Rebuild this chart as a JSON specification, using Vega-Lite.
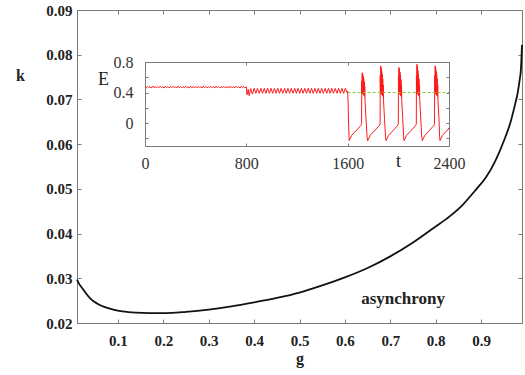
{
  "$schema": "https://vega.github.io/schema/vega-lite/v6.json",
  "width": 445,
  "height": 313,
  "autosize": "none",
  "padding": {"left": 77, "top": 10, "right": 3, "bottom": 52},
  "background": "white",
  "config": {
    "view": {"stroke": null},
    "font": "Liberation Serif",
    "axis": {"grid": false, "labelFlush": false, "labelOverlap": false, "domainColor": "#7a7a7a", "tickColor": "#7a7a7a", "domainWidth": 1, "tickWidth": 1, "labelFont": "Liberation Serif", "titleFont": "Liberation Serif", "labelColor": "#222", "titleColor": "#222"}
  },
  "datasets": {
    "main": [
      {"g": 0.01, "k": 0.0297}, {"g": 0.015, "k": 0.0287}, {"g": 0.02, "k": 0.0280}, {"g": 0.03, "k": 0.0266},
      {"g": 0.04, "k": 0.0254}, {"g": 0.055, "k": 0.0243}, {"g": 0.07, "k": 0.0236}, {"g": 0.09, "k": 0.0230},
      {"g": 0.11, "k": 0.0226}, {"g": 0.14, "k": 0.0223}, {"g": 0.17, "k": 0.0222}, {"g": 0.2, "k": 0.0222},
      {"g": 0.25, "k": 0.0225}, {"g": 0.3, "k": 0.0230}, {"g": 0.35, "k": 0.0237}, {"g": 0.4, "k": 0.0246},
      {"g": 0.45, "k": 0.0256}, {"g": 0.5, "k": 0.0268}, {"g": 0.55, "k": 0.0284}, {"g": 0.6, "k": 0.0302},
      {"g": 0.65, "k": 0.0323}, {"g": 0.7, "k": 0.0349}, {"g": 0.75, "k": 0.0380}, {"g": 0.8, "k": 0.0416},
      {"g": 0.83, "k": 0.0438}, {"g": 0.86, "k": 0.0465}, {"g": 0.89, "k": 0.0500}, {"g": 0.91, "k": 0.0525},
      {"g": 0.93, "k": 0.0560}, {"g": 0.95, "k": 0.0607}, {"g": 0.965, "k": 0.0650}, {"g": 0.975, "k": 0.0690},
      {"g": 0.98, "k": 0.0712}, {"g": 0.985, "k": 0.0745}, {"g": 0.9875, "k": 0.0765}, {"g": 0.99, "k": 0.0822}
    ],
    "lab": [{"g": 0.728, "k": 0.0243, "label": "asynchrony"}],
    "ref": [{"t": 1600, "E": 0.4}, {"t": 2400, "E": 0.4}],
    "ins": [
      {"t":0,"E":0.478},{"t":10,"E":0.462},{"t":20,"E":0.482},{"t":30,"E":0.465},{"t":40,"E":0.476},{"t":50,"E":0.459},{"t":60,"E":0.484},{"t":70,"E":0.463},{"t":80,"E":0.479},{"t":90,"E":0.461},
      {"t":100,"E":0.478},{"t":110,"E":0.462},{"t":120,"E":0.482},{"t":130,"E":0.465},{"t":140,"E":0.476},{"t":150,"E":0.459},{"t":160,"E":0.484},{"t":170,"E":0.463},{"t":180,"E":0.479},{"t":190,"E":0.461},
      {"t":200,"E":0.478},{"t":210,"E":0.462},{"t":220,"E":0.482},{"t":230,"E":0.465},{"t":240,"E":0.476},{"t":250,"E":0.459},{"t":260,"E":0.484},{"t":270,"E":0.463},{"t":280,"E":0.479},{"t":290,"E":0.461},
      {"t":300,"E":0.478},{"t":310,"E":0.462},{"t":320,"E":0.482},{"t":330,"E":0.465},{"t":340,"E":0.476},{"t":350,"E":0.459},{"t":360,"E":0.484},{"t":370,"E":0.463},{"t":380,"E":0.479},{"t":390,"E":0.461},
      {"t":400,"E":0.478},{"t":410,"E":0.462},{"t":420,"E":0.482},{"t":430,"E":0.465},{"t":440,"E":0.476},{"t":450,"E":0.459},{"t":460,"E":0.484},{"t":470,"E":0.463},{"t":480,"E":0.479},{"t":490,"E":0.461},
      {"t":500,"E":0.478},{"t":510,"E":0.462},{"t":520,"E":0.482},{"t":530,"E":0.465},{"t":540,"E":0.476},{"t":550,"E":0.459},{"t":560,"E":0.484},{"t":570,"E":0.463},{"t":580,"E":0.479},{"t":590,"E":0.461},
      {"t":600,"E":0.478},{"t":610,"E":0.462},{"t":620,"E":0.482},{"t":630,"E":0.465},{"t":640,"E":0.476},{"t":650,"E":0.459},{"t":660,"E":0.484},{"t":670,"E":0.463},{"t":680,"E":0.479},{"t":690,"E":0.461},
      {"t":700,"E":0.478},{"t":710,"E":0.462},{"t":720,"E":0.482},{"t":730,"E":0.465},{"t":740,"E":0.476},{"t":750,"E":0.459},{"t":760,"E":0.484},{"t":770,"E":0.463},{"t":780,"E":0.479},{"t":790,"E":0.461},
      {"t":800,"E":0.475},{"t":805,"E":0.37},{"t":815,"E":0.44},{"t":822,"E":0.36},{"t":835,"E":0.45},{"t":848,"E":0.38},
      {"t":862,"E":0.455},{"t":875,"E":0.39},{"t":888,"E":0.455},{"t":902,"E":0.39},{"t":915,"E":0.455},{"t":928,"E":0.39},
      {"t":942,"E":0.455},{"t":955,"E":0.39},{"t":968,"E":0.455},{"t":982,"E":0.39},{"t":995,"E":0.455},{"t":1008,"E":0.39},
      {"t":1022,"E":0.455},{"t":1035,"E":0.39},{"t":1048,"E":0.455},{"t":1062,"E":0.39},{"t":1075,"E":0.455},{"t":1088,"E":0.39},
      {"t":1102,"E":0.455},{"t":1115,"E":0.39},{"t":1128,"E":0.455},{"t":1142,"E":0.39},{"t":1155,"E":0.455},{"t":1168,"E":0.39},
      {"t":1182,"E":0.455},{"t":1195,"E":0.39},{"t":1208,"E":0.455},{"t":1222,"E":0.39},{"t":1235,"E":0.455},{"t":1248,"E":0.39},
      {"t":1262,"E":0.455},{"t":1275,"E":0.39},{"t":1288,"E":0.455},{"t":1302,"E":0.39},{"t":1315,"E":0.455},{"t":1328,"E":0.39},
      {"t":1342,"E":0.455},{"t":1355,"E":0.39},{"t":1368,"E":0.455},{"t":1382,"E":0.39},{"t":1395,"E":0.455},{"t":1408,"E":0.39},
      {"t":1422,"E":0.455},{"t":1435,"E":0.39},{"t":1448,"E":0.455},{"t":1462,"E":0.39},{"t":1475,"E":0.455},{"t":1488,"E":0.39},
      {"t":1502,"E":0.455},{"t":1515,"E":0.39},{"t":1528,"E":0.455},{"t":1542,"E":0.39},{"t":1555,"E":0.455},{"t":1568,"E":0.39},
      {"t":1582,"E":0.455},{"t":1595,"E":0.40},{"t":1600,"E":0.42},
      {"t":1603,"E":0.30},{"t":1607,"E":0.0},{"t":1612,"E":-0.23},{"t":1632,"E":-0.16},{"t":1672,"E":-0.09},{"t":1705,"E":-0.03},
      {"t":1710,"E":-0.01},{"t":1711,"E":0.55},{"t":1713,"E":0.40},{"t":1715,"E":0.66},{"t":1717,"E":0.38},{"t":1719,"E":0.64},{"t":1721,"E":0.40},{"t":1723,"E":0.61},{"t":1725,"E":0.37},{"t":1727,"E":0.58},{"t":1729,"E":0.36},{"t":1731,"E":0.54},{"t":1733,"E":0.35},{"t":1735,"E":0.48},{"t":1737,"E":0.30},{"t":1745,"E":0.05},{"t":1753,"E":-0.18},
      {"t":1758,"E":-0.23},{"t":1778,"E":-0.16},{"t":1818,"E":-0.09},{"t":1851,"E":-0.03},
      {"t":1856,"E":-0.01},{"t":1857,"E":0.62},{"t":1859,"E":0.42},{"t":1861,"E":0.75},{"t":1863,"E":0.38},{"t":1865,"E":0.72},{"t":1867,"E":0.40},{"t":1869,"E":0.68},{"t":1871,"E":0.37},{"t":1873,"E":0.64},{"t":1875,"E":0.36},{"t":1877,"E":0.58},{"t":1879,"E":0.35},{"t":1881,"E":0.50},{"t":1883,"E":0.30},{"t":1891,"E":0.05},{"t":1899,"E":-0.18},
      {"t":1903,"E":-0.23},{"t":1923,"E":-0.16},{"t":1963,"E":-0.09},{"t":1995,"E":-0.03},
      {"t":2000,"E":-0.01},{"t":2001,"E":0.62},{"t":2003,"E":0.42},{"t":2005,"E":0.73},{"t":2007,"E":0.38},{"t":2009,"E":0.71},{"t":2011,"E":0.40},{"t":2013,"E":0.67},{"t":2015,"E":0.37},{"t":2017,"E":0.63},{"t":2019,"E":0.36},{"t":2021,"E":0.57},{"t":2023,"E":0.35},{"t":2025,"E":0.50},{"t":2027,"E":0.30},{"t":2035,"E":0.05},{"t":2042,"E":-0.18},
      {"t":2045,"E":-0.23},{"t":2065,"E":-0.16},{"t":2105,"E":-0.09},{"t":2137,"E":-0.03},
      {"t":2142,"E":-0.01},{"t":2143,"E":0.62},{"t":2145,"E":0.42},{"t":2147,"E":0.77},{"t":2149,"E":0.38},{"t":2151,"E":0.74},{"t":2153,"E":0.40},{"t":2155,"E":0.69},{"t":2157,"E":0.37},{"t":2159,"E":0.64},{"t":2161,"E":0.36},{"t":2163,"E":0.58},{"t":2165,"E":0.35},{"t":2167,"E":0.50},{"t":2169,"E":0.30},{"t":2177,"E":0.05},{"t":2185,"E":-0.18},
      {"t":2189,"E":-0.23},{"t":2209,"E":-0.16},{"t":2249,"E":-0.09},{"t":2281,"E":-0.03},
      {"t":2286,"E":-0.01},{"t":2287,"E":0.62},{"t":2289,"E":0.42},{"t":2291,"E":0.75},{"t":2293,"E":0.38},{"t":2295,"E":0.72},{"t":2297,"E":0.40},{"t":2299,"E":0.68},{"t":2301,"E":0.37},{"t":2303,"E":0.64},{"t":2305,"E":0.36},{"t":2307,"E":0.58},{"t":2309,"E":0.35},{"t":2311,"E":0.50},{"t":2313,"E":0.30},{"t":2321,"E":0.05},{"t":2326,"E":-0.18},
      {"t":2329,"E":-0.23},{"t":2349,"E":-0.16},{"t":2389,"E":-0.09},{"t":2400,"E":-0.06}
    ]
  },
  "layer": [
    {
      "data": {"name": "main"},
      "mark": {"type": "line", "color": "#111", "strokeWidth": 1.8, "interpolate": "monotone"},
      "encoding": {
        "x": {"field": "g", "type": "quantitative", "scale": {"domain": [0.01, 0.99], "nice": false, "zero": false},
              "axis": {"orient": "bottom", "values": [0.1,0.2,0.3,0.4,0.5,0.6,0.7,0.8,0.9], "format": ".1f", "tickSize": -4, "labelPadding": 14,
                       "labelFontSize": 15, "labelFontWeight": "bold", "title": "g", "titleFontSize": 16, "titleFontWeight": "bold",
                       "titleY": 40, "titleBaseline": "alphabetic"}},
        "y": {"field": "k", "type": "quantitative", "scale": {"domain": [0.02, 0.09], "nice": false, "zero": false},
              "axis": {"orient": "left", "values": [0.02,0.03,0.04,0.05,0.06,0.07,0.08,0.09], "format": ".2f", "tickSize": -4, "labelPadding": 9,
                       "labelFontSize": 15, "labelFontWeight": "bold", "title": "k", "titleFontSize": 16, "titleFontWeight": "bold",
                       "titleAngle": 0, "titleX": -57, "titleY": 65, "titleAlign": "center", "titleBaseline": "middle"}}
      }
    },
    {
      "data": {"name": "lab"},
      "mark": {"type": "text", "font": "Liberation Serif", "fontSize": 17, "fontWeight": "bold", "align": "center", "baseline": "alphabetic", "color": "#222"},
      "encoding": {
        "x": {"field": "g", "type": "quantitative", "scale": {"domain": [0.01, 0.99], "nice": false, "zero": false},
              "axis": {"orient": "top", "values": [0.1,0.2,0.3,0.4,0.5,0.6,0.7,0.8,0.9], "labels": false, "tickSize": -4, "title": null}},
        "y": {"field": "k", "type": "quantitative", "scale": {"domain": [0.02, 0.09], "nice": false, "zero": false},
              "axis": {"orient": "right", "values": [0.02,0.03,0.04,0.05,0.06,0.07,0.08,0.09], "labels": false, "tickSize": -4, "title": null}},
        "text": {"field": "label"}
      }
    },
    {
      "data": {"name": "ins"},
      "mark": {"type": "line", "color": "#ff1a1a", "strokeWidth": 1},
      "encoding": {
        "x": {"field": "t", "type": "quantitative", "scale": {"domain": [0, 2400], "range": [68, 372], "nice": false, "zero": false},
              "axis": {"orient": "bottom", "offset": -177, "values": [0, 800, 1600, 2400], "format": "d", "tickSize": -3, "labelPadding": 12,
                       "labelFontSize": 16, "labelColor": "#333", "title": "t", "titleFontSize": 18, "titleFontWeight": "normal",
                       "titleX": 321, "titleY": 15, "titleAlign": "center", "titleBaseline": "middle"}},
        "y": {"field": "E", "type": "quantitative", "scale": {"domain": [-0.3, 0.8], "range": [136, 52], "nice": false, "zero": false},
              "axis": {"orient": "left", "offset": -68, "values": [-0.2, 0, 0.2, 0.4, 0.6, 0.8], "tickSize": -3, "labelPadding": 15,
                       "labelExpr": "abs(datum.value) < 0.001 ? '0' : abs(datum.value - 0.4) < 0.001 ? '0.4' : abs(datum.value - 0.8) < 0.001 ? '0.8' : ''",
                       "labelFontSize": 16, "labelColor": "#333", "title": "E", "titleFontSize": 18, "titleFontWeight": "normal",
                       "titleAngle": 0, "titleX": -42, "titleY": 69, "titleAlign": "center", "titleBaseline": "middle"}}
      }
    },
    {
      "data": {"name": "ref"},
      "mark": {"type": "line", "color": "#7ccf3a", "strokeWidth": 1, "strokeDash": [3, 2]},
      "encoding": {
        "x": {"field": "t", "type": "quantitative", "scale": {"domain": [0, 2400], "range": [68, 372], "nice": false, "zero": false},
              "axis": {"orient": "top", "offset": -52, "values": [0, 800, 1600, 2400], "labels": false, "tickSize": -3, "title": null}},
        "y": {"field": "E", "type": "quantitative", "scale": {"domain": [-0.3, 0.8], "range": [136, 52], "nice": false, "zero": false},
              "axis": {"orient": "right", "offset": -73, "values": [-0.2, 0, 0.2, 0.4, 0.6, 0.8], "labels": false, "tickSize": -3, "title": null}}
      }
    }
  ],
  "resolve": {"scale": {"x": "independent", "y": "independent"}}
}
